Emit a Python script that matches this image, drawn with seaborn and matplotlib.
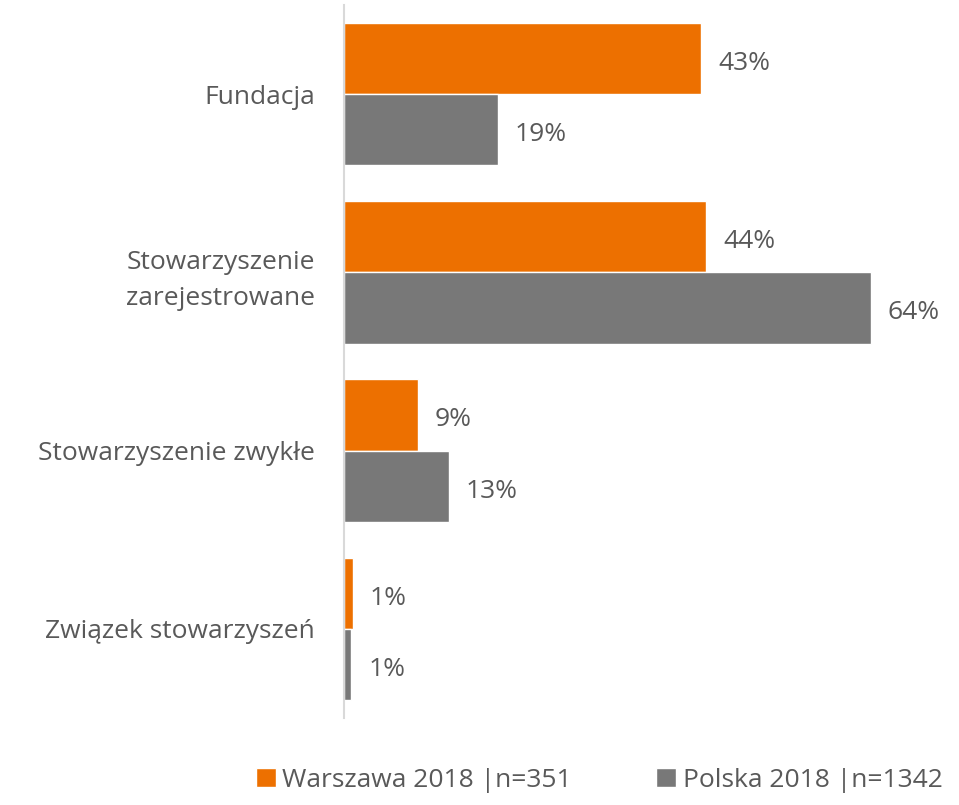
import numpy as np
import pandas as pd
import matplotlib.pyplot as plt
import seaborn as sns

categories = ["Fundacja", "Stowarzyszenie\nzarejestrowane", "Stowarzyszenie zwykłe", "Związek stowarzyszeń"]
series = ["Warszawa 2018 |n=351", "Polska 2018 |n=1342"]
warszawa = [43.4, 44.0, 9.0, 1.1]
polska = [18.7, 64.0, 12.8, 0.9]
labels_w = ["43%", "44%", "9%", "1%"]
labels_p = ["19%", "64%", "13%", "1%"]
colors = ["#ED7000", "#787878"]

df = pd.DataFrame({
    "cat": categories * 2,
    "grupa": [series[0]] * 4 + [series[1]] * 4,
    "val": warszawa + polska,
})

sns.set_style("white")
plt.rcParams['font.family'] = ['Open Sans', 'DejaVu Sans']
txt = "#595959"
fs = 19

fig = plt.figure(figsize=(9.59, 8.05), dpi=100)
ax = fig.add_axes([344/959, 1 - 718/805, (945 - 344)/959, (718 - 5)/805])
sns.barplot(data=df, y="cat", x="val", hue="grupa", palette=colors, orient="h",
            width=0.8, saturation=1, ax=ax, legend=True)

for cont, labs in zip(ax.containers, [labels_w, labels_p]):
    anns = ax.bar_label(cont, labels=labs, padding=12, fontsize=fs, color=txt)
    for a in anns:
        a.xyann = (12, -3.5)

ax.set_xlim(0, 73)
ax.set_ylim(3.5, -0.5)
ax.set_xlabel("")
ax.set_ylabel("")
ax.set_xticks([])
ax.tick_params(axis="y", length=0, pad=21, labelsize=fs, labelcolor=txt)
for t in ax.get_yticklabels():
    t.set_multialignment("right")
    t.set_linespacing(1.55)
for s in ["top", "right", "bottom"]:
    ax.spines[s].set_visible(False)
ax.spines["left"].set_color("#D9D9D9")
ax.spines["left"].set_linewidth(1.5)

handles, lbls = ax.get_legend_handles_labels()
ax.legend_.remove()
fig.legend(handles, lbls, loc="center", bbox_to_anchor=(0.625, 1 - 780/805), ncol=2,
           frameon=False, fontsize=fs, labelcolor=txt, handlelength=0.75, handleheight=0.75,
           handletextpad=0.25, columnspacing=3.2)

fig.savefig("out.png", dpi=100)
